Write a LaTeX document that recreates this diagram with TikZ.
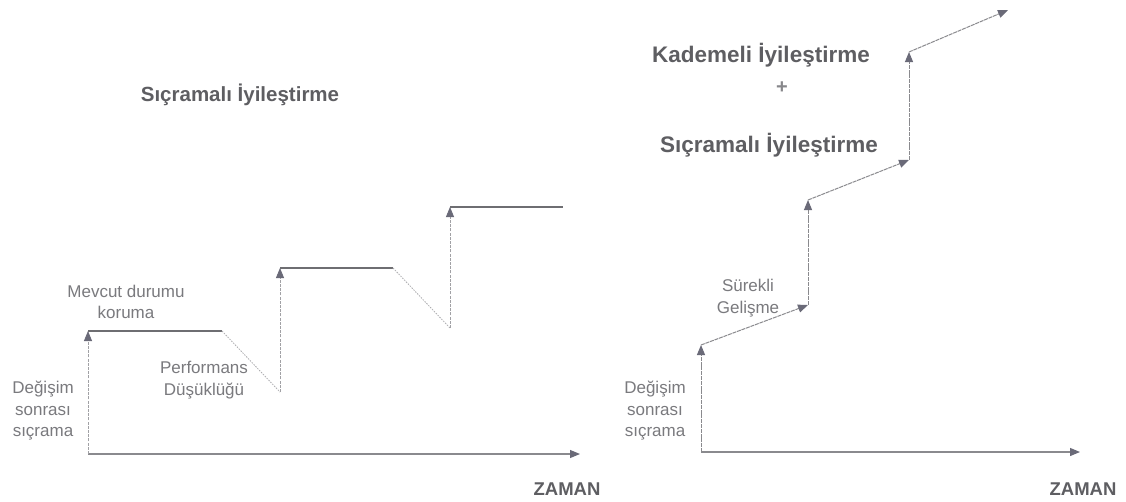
\documentclass[tikz,border=0pt]{standalone}
\usepackage{fontspec}
\setmainfont{Liberation Sans}
\usetikzlibrary{arrows.meta}
\definecolor{linegray}{HTML}{8A8A8E}
\definecolor{darkline}{HTML}{6E6E72}
\definecolor{headgray}{HTML}{6A6A78}
\definecolor{titlegray}{HTML}{5E5E62}
\definecolor{labelgray}{HTML}{7A7A7E}
\tikzset{
  tip/.style={-{Triangle[length=10pt,width=8pt,color=headgray]}},
  axisline/.style={draw=linegray,line width=1.1pt,tip},
  upleft/.style={draw=linegray!80,line width=0.8pt,dash pattern=on 3pt off 1.2pt,tip},
  flatline/.style={draw=darkline,line width=1.3pt},
  dropline/.style={draw=linegray!70,line width=0.8pt,dash pattern=on 1.5pt off 1.2pt},
  rightline/.style={draw=linegray,line width=1pt,dash pattern=on 4pt off 0.8pt,tip},
  label/.style={text=labelgray,align=center,inner sep=0pt,font=\fontsize{17}{21.5}\selectfont},
  title/.style={text=titlegray,inner sep=0pt,font=\bfseries\fontsize{20.5}{24}\selectfont},
  titlebig/.style={text=titlegray,inner sep=0pt,font=\bfseries\fontsize{22.5}{26}\selectfont},
  zaman/.style={text=titlegray,inner sep=0pt,font=\bfseries\fontsize{18.5}{22}\selectfont},
}
\begin{document}
\begin{tikzpicture}[x=1pt,y=-1pt]
\useasboundingbox[fill=white] (0,0) rectangle (1126,501);
% ---------- left diagram ----------
\coordinate (LO) at (88,454);
\coordinate (LX) at (580,454);
\coordinate (L1) at (88,331);
\coordinate (L2) at (222,331);
\coordinate (L3) at (280,392);
\coordinate (L4) at (280,268);
\coordinate (L5) at (393,268);
\coordinate (L6) at (450,328);
\coordinate (L7) at (450,207);
\coordinate (L8) at (563,207);
\draw[axisline] (LO) -- (LX);
\draw[upleft] (LO) -- (L1);
\draw[flatline] (L1) -- (L2);
\draw[dropline] (L2) -- (L3);
\draw[upleft] (L3) -- (L4);
\draw[flatline] (L4) -- (L5);
\draw[dropline] (L5) -- (L6);
\draw[upleft] (L6) -- (L7);
\draw[flatline] (L7) -- (L8);
\node[title] (ltitle) at (240,95) {Sıçramalı İyileştirme};
\node[label] (mevcut) at (126,302) {Mevcut durumu\\koruma};
\node[label] (perf) at (204,380) {Performans\\Düşüklüğü};
\node[label] (ldeg) at (43,411) {Değişim\\sonrası\\sıçrama};
\node[zaman] (lzaman) at (567,489) {ZAMAN};
% ---------- right diagram ----------
\coordinate (RO) at (701,452);
\coordinate (RX) at (1080,452);
\coordinate (R1) at (701,345);
\coordinate (R2) at (808,305);
\coordinate (R3) at (808,200);
\coordinate (R4) at (909,160);
\coordinate (R5) at (909,52);
\coordinate (R6) at (1008,10);
\draw[axisline] (RO) -- (RX);
\draw[rightline] (RO) -- (R1);
\draw[rightline] (R1) -- (R2);
\draw[rightline] (R2) -- (R3);
\draw[rightline] (R3) -- (R4);
\draw[rightline] (R4) -- (R5);
\draw[rightline] (R5) -- (R6);
\node[titlebig] (kad) at (761,55) {Kademeli İyileştirme};
\node[text=labelgray!90,font=\bfseries\fontsize{20}{22}\selectfont,inner sep=0pt] (plus) at (782,88) {+};
\node[titlebig] (rtitle) at (769,145) {Sıçramalı İyileştirme};
\node[label] (surekli) at (748,298) {Sürekli\\Gelişme};
\node[label] (rdeg) at (655,411) {Değişim\\sonrası\\sıçrama};
\node[zaman] (rzaman) at (1083,489) {ZAMAN};
\end{tikzpicture}
\end{document}
